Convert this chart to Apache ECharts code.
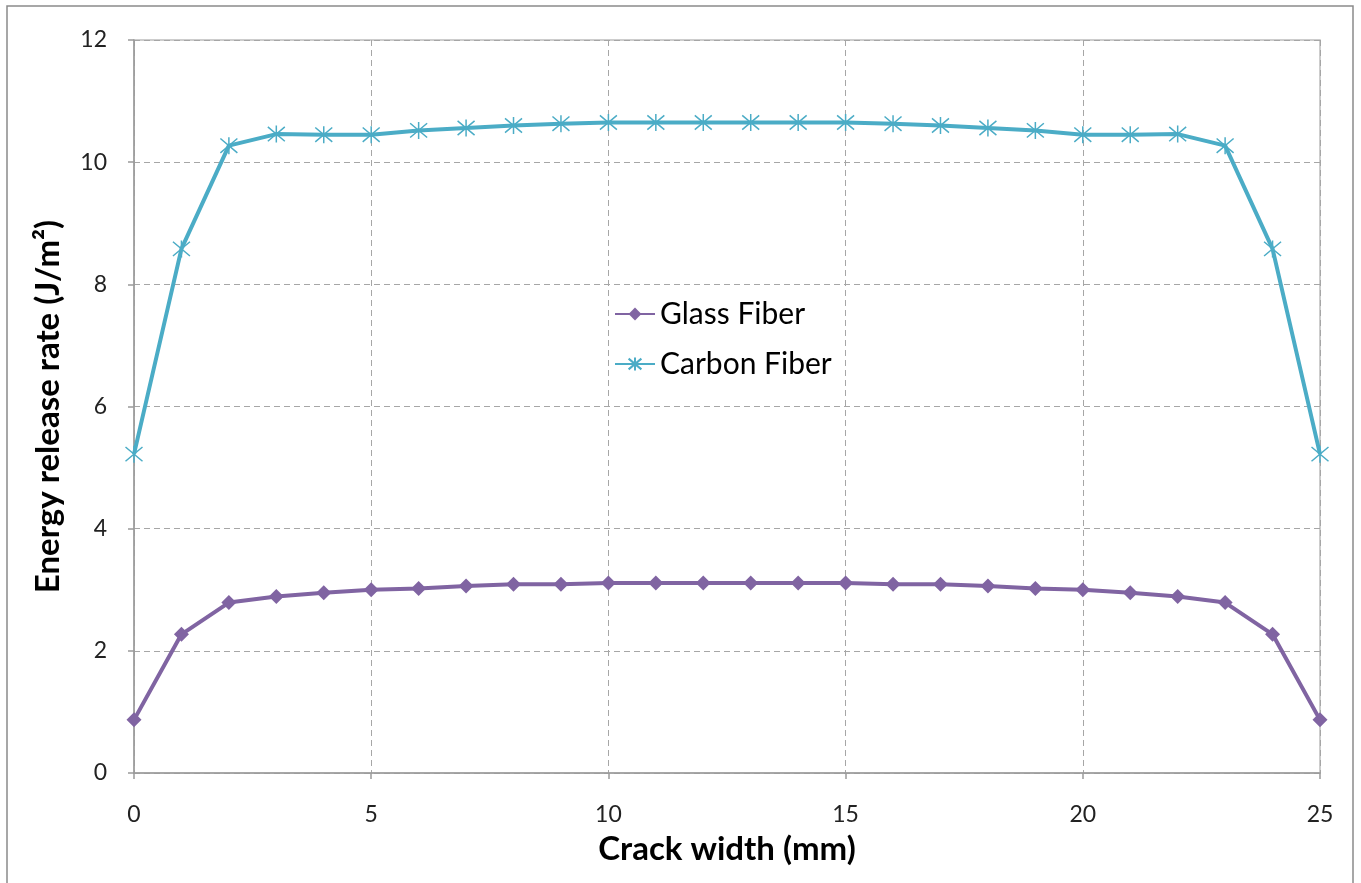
<!DOCTYPE html>
<html><head><meta charset="utf-8">
<script src="https://cdn.jsdelivr.net/npm/echarts@6/dist/echarts.min.js"></script>
<style>html,body{margin:0;padding:0;background:#fff}#c{width:1361px;height:883px}</style>
</head><body><div id="c"></div>
<script>
const crackWidth = [0,1,2,3,4,5,6,7,8,9,10,11,12,13,14,15,16,17,18,19,20,21,22,23,24,25];
const glassFiber = [0.87,2.27,2.79,2.89,2.95,3.0,3.02,3.06,3.09,3.09,3.11,3.11,3.11,3.11,3.11,3.11,3.09,3.09,3.06,3.02,3.0,2.95,2.89,2.79,2.27,0.87];
const carbonFiber = [5.22,8.58,10.27,10.46,10.45,10.45,10.52,10.56,10.60,10.63,10.65,10.65,10.65,10.65,10.65,10.65,10.63,10.60,10.56,10.52,10.45,10.45,10.46,10.27,8.58,5.22];
const seriesNames = ['Glass Fiber','Carbon Fiber'];
const xTitle = 'Crack width (mm)';
const yTitle = 'Energy release rate (J/m²)';

const font = 'Lato, "Open Sans", sans-serif';
const chart = echarts.init(document.getElementById('c'), null, {renderer:'canvas'});
const asterisk = 'path://M5 0 L5 10 M0.8 0.8 L9.2 9.2 M0.8 9.2 L9.2 0.8';
chart.setOption({
  animation:false,
  backgroundColor:'#fff',
  graphic:[{type:'rect',shape:{x:7,y:6,width:1346,height:900},style:{fill:'none',stroke:'#8a8a8a',lineWidth:1.5},silent:true}],
  grid:{left:134,right:41,top:40,bottom:110,show:true,borderColor:'#bdbdbd',borderWidth:1.5},
  legend:{orient:'vertical',left:609,top:294,itemGap:20,itemWidth:40,itemHeight:16,
    textStyle:{fontFamily:font,fontSize:30,color:'#000'},
    data:seriesNames},
  xAxis:{type:'value',min:0,max:25,interval:5,
    name:xTitle,nameLocation:'middle',nameGap:60,
    nameTextStyle:{fontFamily:font,fontSize:33,fontWeight:'bold',color:'#000'},
    axisLine:{lineStyle:{color:'#9a9a9a',width:1.5}},
    axisTick:{show:true,length:6,lineStyle:{color:'#9a9a9a',width:1.5}},
    axisLabel:{fontFamily:font,fontSize:23,color:'#222',margin:30},
    splitLine:{show:true,lineStyle:{color:'#a6a6a6',type:[6,4],width:1}}},
  yAxis:{type:'value',min:0,max:12,interval:2,
    name:yTitle,nameLocation:'middle',nameGap:69,
    nameTextStyle:{fontFamily:font,fontSize:33,fontWeight:'bold',color:'#000'},
    axisLine:{show:true,lineStyle:{color:'#9a9a9a',width:1.5}},
    axisTick:{show:true,length:6,lineStyle:{color:'#9a9a9a',width:1.5}},
    axisLabel:{fontFamily:font,fontSize:23,color:'#222',margin:27},
    splitLine:{show:true,lineStyle:{color:'#a6a6a6',type:[6,4],width:1}}},
  series:[
    {name:seriesNames[0],type:'line',data:crackWidth.map((x,i)=>[x,glassFiber[i]]),
      symbol:'diamond',symbolSize:15,lineStyle:{color:'#8064a2',width:4},
      itemStyle:{color:'#8064a2'}},
    {name:seriesNames[1],type:'line',data:crackWidth.map((x,i)=>[x,carbonFiber[i]]),
      symbol:asterisk,symbolSize:17,lineStyle:{color:'#4bacc6',width:4},
      itemStyle:{color:'#4bacc6',borderColor:'#4bacc6',borderWidth:1.5}}
  ]
});
</script></body></html>
